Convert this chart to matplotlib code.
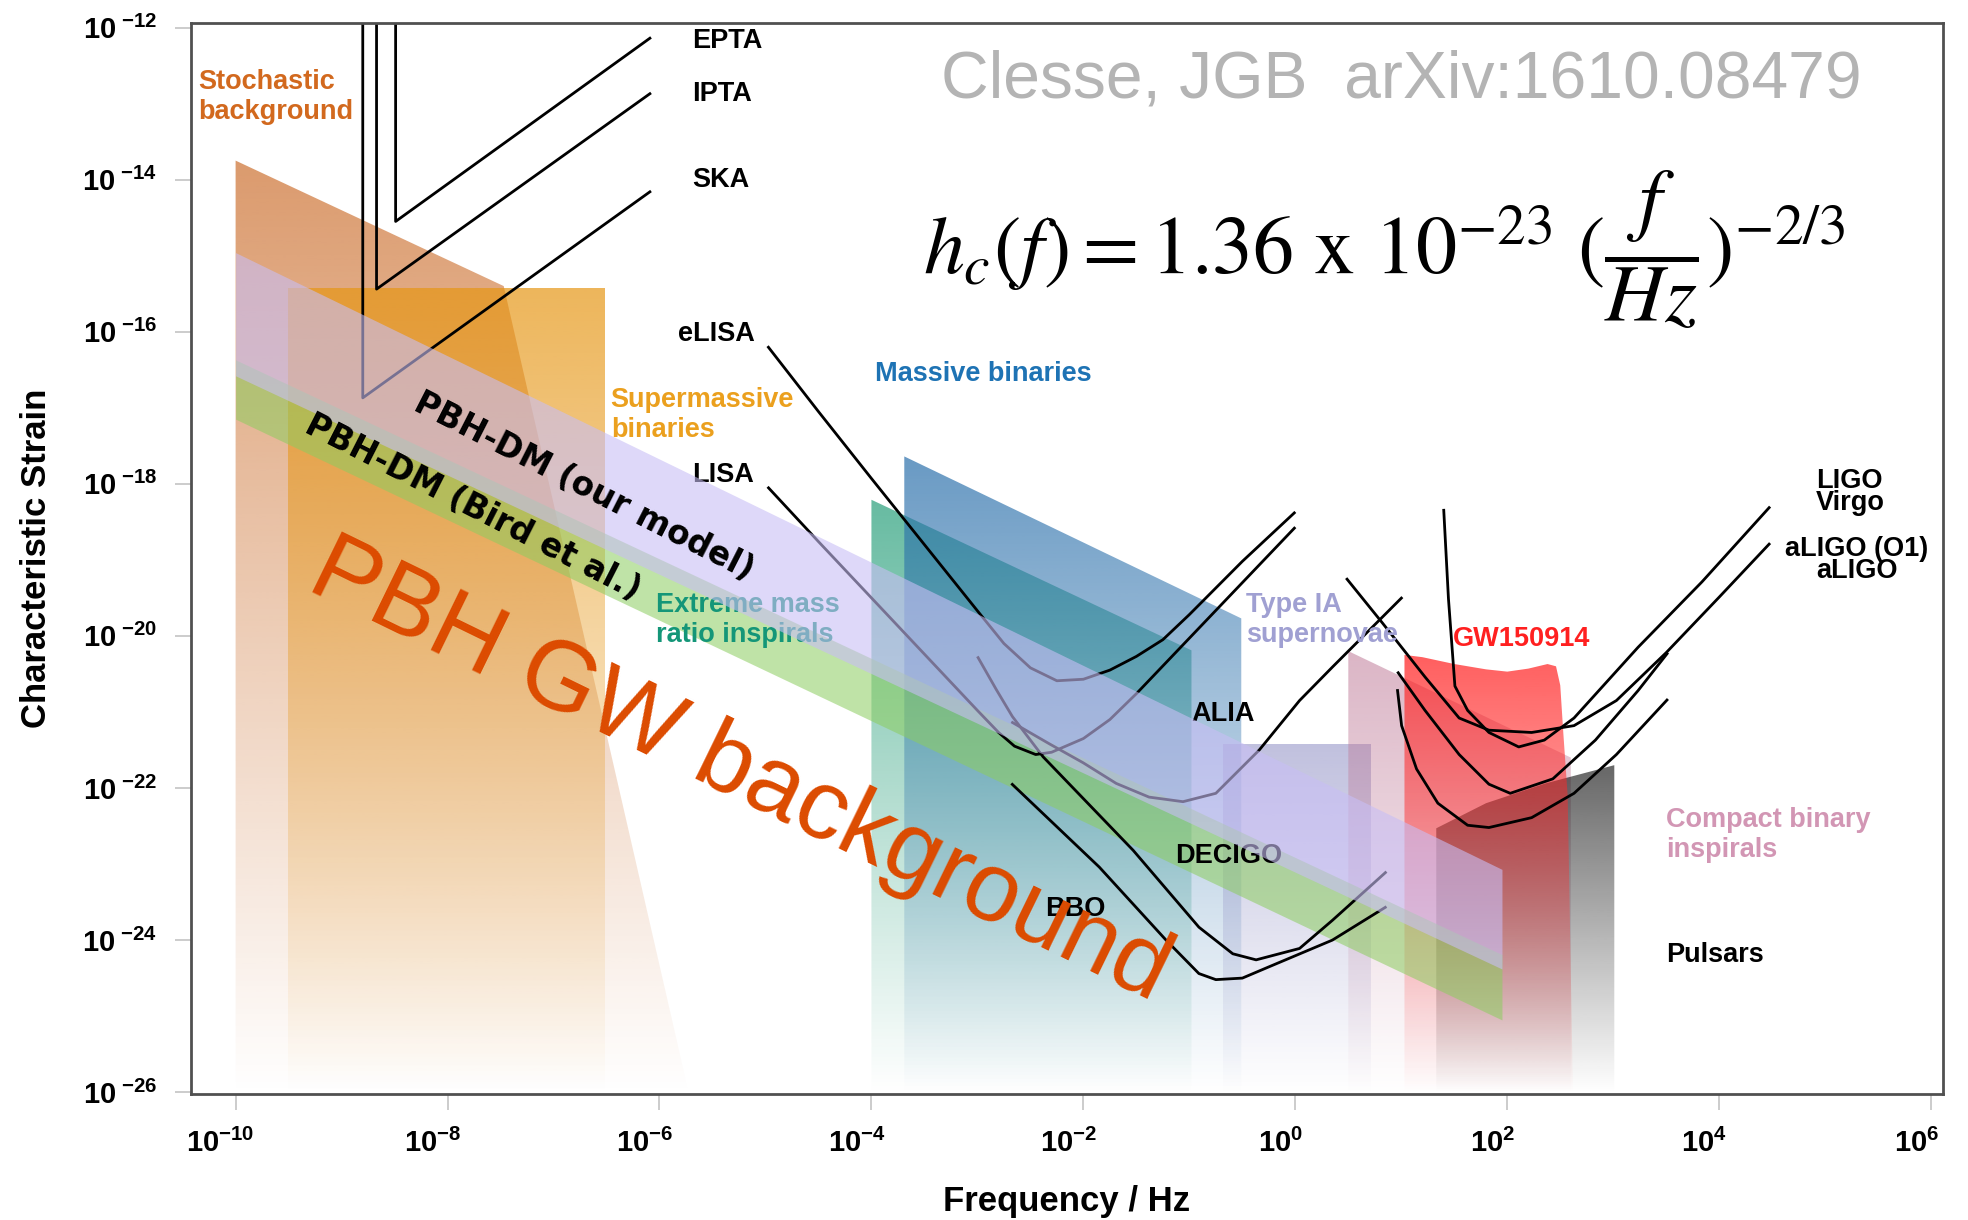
import numpy as np
import matplotlib
matplotlib.use("Agg")
import matplotlib.pyplot as plt
from matplotlib.patches import Polygon
from matplotlib.image import AxesImage
from matplotlib.colors import to_rgb
from matplotlib.ticker import FixedLocator, FuncFormatter, NullLocator
from matplotlib.transforms import ScaledTranslation

plt.rcParams["font.family"] = ["Liberation Sans", "DejaVu Sans"]
plt.rcParams["mathtext.fontset"] = "custom"
plt.rcParams["mathtext.rm"] = "Liberation Sans"
plt.rcParams["mathtext.bf"] = "Liberation Sans:bold"
plt.rcParams["mathtext.it"] = "Liberation Sans:italic"

# ---------------- axis ranges (log10 units) ----------------
LOGF_MIN, LOGF_MAX = -10.42, 6.11
LOGH_MIN, LOGH_MAX = -26.03, -11.935
xtick_exponents = [-10, -8, -6, -4, -2, 0, 2, 4, 6]
ytick_exponents = [-12, -14, -16, -18, -20, -22, -24, -26]

# ---------------- source populations: upper outline (log10 f, log10 h_c) ----------------
stochastic_logf = [-10.0, -7.47, -5.72]
stochastic_logh = [-13.75, -15.40, -26.03]
smbh_logf = [-9.51, -6.51]
smbh_logh = [-15.42, -15.42]
emri_logf = [-4.0, -0.98]
emri_logh = [-18.21, -20.19]
massive_logf = [-3.69, -0.51]
massive_logh = [-17.64, -19.77]
sn1a_logf = [-0.68, 0.71]
sn1a_logh = [-21.42, -21.42]
cbc_logf = [0.50, 2.60]
cbc_logh = [-20.20, -21.60]
pulsar_logf = [1.33, 1.80, 2.36, 3.01]
pulsar_logh = [-22.53, -22.20, -21.94, -21.70]
gw150914_logf = [1.03, 1.20, 1.50, 1.80, 2.00, 2.20, 2.38, 2.46, 2.50, 2.53, 2.57, 2.62]
gw150914_logh = [-20.25, -20.28, -20.37, -20.44, -20.47, -20.43, -20.37, -20.40,
                 -20.65, -21.30, -22.10, -26.03]

# ---------------- PBH dark-matter backgrounds ----------------
pbh_logf = [-10.0, 1.95]
pbh_ours_upper = [-14.96, -23.07]
pbh_ours_lower = [-16.58, -24.38]
pbh_bird_upper = [-16.37, -24.19]
pbh_bird_lower = [-17.15, -25.05]

# ---------------- detector sensitivity curves ----------------
epta_logf = [-8.49, -8.49, -6.08]
epta_logh = [-11.90, -14.55, -12.13]
ipta_logf = [-8.67, -8.67, -6.08]
ipta_logh = [-11.90, -15.44, -12.86]
ska_logf = [-8.80, -8.80, -6.08]
ska_logh = [-11.90, -16.87, -14.15]

elisa_logf = [-4.98, -4.5, -4.0, -3.5, -3.0, -2.75, -2.5, -2.25, -2.0, -1.75, -1.5, -1.25, -1.0, -0.5, 0.0]
elisa_logh = [-16.19, -17.05, -17.93, -18.80, -19.67, -20.10, -20.42, -20.59, -20.57, -20.45,
              -20.27, -20.05, -19.72, -19.02, -18.37]
lisa_logf = [-4.98, -4.5, -4.0, -3.5, -3.0, -2.8, -2.65, -2.45, -2.3, -2.0, -1.75, -1.5, -1.0, -0.5, 0.0]
lisa_logh = [-18.04, -18.76, -19.50, -20.24, -20.98, -21.27, -21.45, -21.56, -21.53, -21.35,
             -21.10, -20.76, -20.03, -19.30, -18.57]
alia_logf = [-2.68, -2.32, -2.0, -1.69, -1.38, -1.06, -0.75, -0.34, 0.04, 0.35, 1.01]
alia_logh = [-21.13, -21.42, -21.67, -21.94, -22.12, -22.18, -22.07, -21.50, -20.85, -20.41, -19.49]
decigo_logf = [-3.0, -2.82, -2.67, -2.38, -2.0, -1.53, -0.91, -0.59, -0.37, 0.04, 0.35, 0.86]
decigo_logh = [-20.27, -20.71, -21.06, -21.59, -22.14, -22.82, -23.83, -24.18, -24.26, -24.11,
               -23.74, -23.10]
bbo_logf = [-2.68, -1.85, -1.22, -0.91, -0.75, -0.5, -0.28, 0.35, 0.86]
bbo_logh = [-21.94, -23.04, -24.00, -24.44, -24.52, -24.50, -24.37, -24.00, -23.56]

ligo_logf = [1.40, 1.445, 1.506, 1.626, 1.827, 2.108, 2.35, 2.63, 3.234, 3.837, 4.48]
ligo_logh = [-18.33, -19.51, -20.66, -20.98, -21.27, -21.46, -21.37, -21.08, -20.15, -19.29, -18.30]
virgo_logf = [0.48, 0.822, 1.224, 1.546, 1.827, 2.23, 2.63, 3.03, 3.5, 4.0, 4.48]
virgo_logh = [-19.24, -19.83, -20.54, -21.08, -21.24, -21.27, -21.18, -20.85, -20.22, -19.49, -18.78]
aligo_o1_logf = [0.963, 1.224, 1.546, 1.827, 2.028, 2.43, 2.832, 3.234, 3.516]
aligo_o1_logh = [-20.47, -20.98, -21.56, -21.95, -22.07, -21.88, -21.37, -20.72, -20.22]
aligo_logf = [0.963, 1.003, 1.144, 1.345, 1.626, 1.827, 2.23, 2.63, 3.03, 3.516]
aligo_logh = [-20.70, -21.18, -21.75, -22.20, -22.49, -22.52, -22.39, -22.07, -21.56, -20.83]


fig = plt.figure(figsize=(19.68, 12.2), dpi=100)
ax = fig.add_axes([0.0971, 0.1029, 0.8901, 0.8786])
ax.set_xscale("log")
ax.set_yscale("log")
ax.set_xlim(10.0 ** LOGF_MIN, 10.0 ** LOGF_MAX)
ax.set_ylim(10.0 ** LOGH_MIN, 10.0 ** LOGH_MAX)
ax.set_autoscale_on(False)


def faded_region(logf, logh, color, alpha_top, z, power=1.0):
    """Filled region below an outline, fading to white towards the bottom axis."""
    f = list(logf) + [logf[-1], logf[0]]
    h = list(logh) + [LOGH_MIN, LOGH_MIN]
    verts = np.column_stack([10.0 ** np.asarray(f), 10.0 ** np.asarray(h)])
    outline = Polygon(verts, closed=True, facecolor="none", edgecolor="none")
    ax.add_patch(outline)
    rows = np.linspace(LOGH_MIN, LOGH_MAX, 700)
    t = np.clip((rows - LOGH_MIN) / (max(logh) - LOGH_MIN), 0, 1) ** power
    rgba = np.zeros((rows.size, 2, 4))
    rgba[..., :3] = to_rgb(color)
    rgba[..., 3] = (alpha_top * t)[:, None]
    im = AxesImage(ax, origin="lower", extent=(0, 1, 0, 1),
                   transform=ax.transAxes, interpolation="bilinear")
    im.set_data(rgba)
    im.set_zorder(z)
    ax.add_image(im)
    im.set_clip_path(outline)


faded_region(stochastic_logf, stochastic_logh, "#c8641e", 0.65, 1.0)
faded_region(smbh_logf, smbh_logh, "#e69614", 0.70, 1.1)
faded_region(emri_logf, emri_logh, "#14966e", 0.65, 1.2)
faded_region(massive_logf, massive_logh, "#286eaa", 0.70, 1.3)
faded_region(sn1a_logf, sn1a_logh, "#9696c8", 0.60, 1.4)
faded_region(cbc_logf, cbc_logh, "#be7896", 0.55, 1.5)
faded_region(pulsar_logf, pulsar_logh, "#141414", 0.65, 1.6)
faded_region(gw150914_logf, gw150914_logh, "#ff2828", 0.75, 1.7, power=1.0)

# PBH backgrounds
pf = 10.0 ** np.asarray(pbh_logf)
ax.fill_between(pf, 10.0 ** np.asarray(pbh_bird_lower), 10.0 ** np.asarray(pbh_bird_upper),
                color="#8ccd5f", alpha=0.55, lw=0, zorder=2.0)
ax.fill_between(pf, 10.0 ** np.asarray(pbh_ours_lower), 10.0 ** np.asarray(pbh_ours_upper),
                color="#c8bef5", alpha=0.6, lw=0, zorder=4.0)

# detector curves
for lf, lh in [(epta_logf, epta_logh), (ipta_logf, ipta_logh), (ska_logf, ska_logh),
               (elisa_logf, elisa_logh), (lisa_logf, lisa_logh), (alia_logf, alia_logh),
               (decigo_logf, decigo_logh), (bbo_logf, bbo_logh), (ligo_logf, ligo_logh),
               (virgo_logf, virgo_logh), (aligo_o1_logf, aligo_o1_logh), (aligo_logf, aligo_logh)]:
    ax.plot(10.0 ** np.asarray(lf), 10.0 ** np.asarray(lh), color="black", lw=2.0,
            solid_joinstyle="round", solid_capstyle="butt", zorder=3.0)


def label(logf, logh, text, color="black", size=19.5, z=3.5, **kw):
    kw.setdefault("ha", "left")
    kw.setdefault("va", "center")
    kw.setdefault("fontweight", "bold")
    ax.text(10.0 ** logf, 10.0 ** logh, text, color=color, fontsize=size, zorder=z, **kw)


label(-10.355, -12.91, "Stochastic\nbackground", color="#d2691e", linespacing=1.2)
label(-6.46, -17.09, "Supermassive\nbinaries", color="#eba01e", linespacing=1.2)
label(-5.69, -12.18, "EPTA")
label(-5.69, -12.88, "IPTA")
label(-5.69, -14.00, "SKA")
label(-5.83, -16.03, "eLISA")
label(-5.69, -17.88, "LISA")
label(-3.97, -16.56, "Massive binaries", color="#1e73b4")
label(-6.03, -19.79, "Extreme mass\nratio inspirals", color="#149678", linespacing=1.2)
label(-0.468, -19.79, "Type IA\nsupernovae", color="#a0a0d2", linespacing=1.2)
label(-0.977, -21.03, "ALIA")
label(-1.13, -22.90, "DECIGO")
label(-2.36, -23.59, "BBO")
label(1.486, -20.04, "GW150914", color="#ff2020")
label(4.91, -18.11, "LIGO\nVirgo", linespacing=0.8)
label(5.30, -19.00, "aLIGO (O1)\naLIGO", ha="center", multialignment="center", linespacing=0.8)
label(3.50, -22.62, "Compact binary\ninspirals", color="#d296b4", linespacing=1.2)
label(3.50, -24.20, "Pulsars")

label(-6.71, -18.04, "PBH-DM (our model)", size=23.5, z=6, ha="center",
      rotation=-27, rotation_mode="anchor", family="DejaVu Sans")
label(-7.76, -18.31, "PBH-DM (Bird et al.)", size=23.5, z=6, ha="center",
      rotation=-27, rotation_mode="anchor", family="DejaVu Sans")
label(-5.24, -21.79, "PBH GW background", color="#dc4b00", size=71, z=6, ha="center",
      fontweight="normal", rotation=-26, rotation_mode="anchor")

# header texts
fig.text(0.478, 0.9198, "Clesse, JGB  arXiv:1610.08479", color="#b4b4b4",
         fontsize=47.5, va="baseline", ha="left")
fig.text(0.469, 0.776,
         r"$h_c(f) = 1.36\ \mathrm{x}\ 10^{-23}\ (\dfrac{f}{Hz})^{-2/3}$",
         fontsize=59, math_fontfamily="stix", va="baseline", ha="left", color="black")

# axes styling
ax.xaxis.set_major_locator(FixedLocator(10.0 ** np.asarray(xtick_exponents, dtype=float)))
ax.yaxis.set_major_locator(FixedLocator(10.0 ** np.asarray(ytick_exponents, dtype=float)))
ax.xaxis.set_minor_locator(NullLocator())
ax.yaxis.set_minor_locator(NullLocator())
ax.xaxis.set_major_formatter(FuncFormatter(
    lambda v, p: r"$\mathbf{10^{%d}}$" % int(round(np.log10(v)))))
ax.yaxis.set_major_formatter(FuncFormatter(
    lambda v, p: r"$\mathbf{10}^{\ \mathbf{%d}}$" % int(round(np.log10(v)))))
ax.tick_params(axis="both", which="major", direction="out", length=11.5, width=1.2,
               color="#c4c4c4", labelsize=21, pad=13)
for s in ax.spines.values():
    s.set_color("#505050")
    s.set_linewidth(2.0)
    s.set_zorder(7)

shift = ScaledTranslation(-0.15, 0, fig.dpi_scale_trans)
for lbl in ax.get_xticklabels():
    lbl.set_transform(lbl.get_transform() + shift)

ax.set_xlabel("Frequency / Hz", fontsize=25, fontweight="bold")
ax.set_ylabel("Characteristic Strain", fontsize=25, fontweight="bold")
ax.xaxis.set_label_coords(0.5, -0.0843)
ax.yaxis.label.set_va("center")
ax.yaxis.set_label_coords(-0.088, 0.5)

fig.savefig("out.png", dpi=100)
